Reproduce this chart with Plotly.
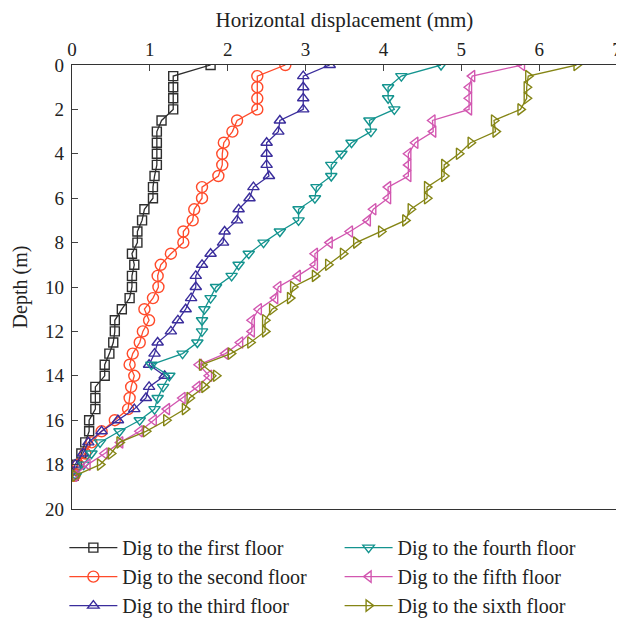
import plotly.graph_objects as go

depth = [i * 0.5 for i in range(38)]

first_floor = [1.78, 1.30, 1.30, 1.30, 1.30, 1.15, 1.09, 1.09, 1.09, 1.09, 1.06, 1.04, 1.04, 0.93, 0.90,
               0.84, 0.84, 0.77, 0.80, 0.77, 0.77, 0.74, 0.64, 0.55, 0.55, 0.53, 0.48, 0.42, 0.42, 0.30,
               0.30, 0.30, 0.22, 0.22, 0.17, 0.12, 0.06, 0.02]
second_floor = [2.74, 2.38, 2.38, 2.38, 2.38, 2.12, 2.06, 1.95, 1.93, 1.93, 1.88, 1.67, 1.67, 1.57, 1.55,
                1.43, 1.43, 1.27, 1.14, 1.10, 1.11, 1.04, 0.93, 0.99, 0.91, 0.87, 0.78, 0.74, 0.80, 0.76,
                0.74, 0.72, 0.55, 0.38, 0.25, 0.17, 0.08, 0.03]
third_floor = [3.31, 2.97, 2.97, 2.97, 2.97, 2.67, 2.65, 2.50, 2.50, 2.50, 2.53, 2.33, 2.28, 2.14, 2.12,
               1.96, 1.94, 1.78, 1.67, 1.59, 1.59, 1.53, 1.46, 1.36, 1.27, 1.10, 1.06, 0.99, 1.19, 0.99,
               0.95, 0.80, 0.59, 0.38, 0.21, 0.14, 0.04, 0.00]
fourth_floor = [4.74, 4.23, 4.06, 4.06, 4.14, 3.82, 3.84, 3.59, 3.46, 3.33, 3.33, 3.14, 3.12, 2.91, 2.91,
                2.67, 2.46, 2.27, 2.14, 2.05, 1.85, 1.78, 1.70, 1.67, 1.67, 1.61, 1.42, 1.02, 1.25, 1.17,
                1.10, 1.06, 0.87, 0.61, 0.36, 0.25, 0.15, 0.05]
fifth_floor = [5.78, 5.14, 5.10, 5.10, 5.10, 4.63, 4.64, 4.41, 4.32, 4.32, 4.32, 4.06, 4.06, 3.87, 3.80,
               3.57, 3.31, 3.12, 3.12, 2.90, 2.65, 2.61, 2.40, 2.31, 2.31, 2.16, 1.97, 1.63, 1.76, 1.61,
               1.42, 1.22, 1.05, 0.87, 0.62, 0.42, 0.20, 0.03]
sixth_floor = [6.48, 5.86, 5.84, 5.84, 5.76, 5.42, 5.44, 5.12, 4.97, 4.78, 4.78, 4.56, 4.56, 4.35, 4.28,
               3.97, 3.65, 3.48, 3.29, 3.12, 2.84, 2.80, 2.57, 2.48, 2.48, 2.29, 2.04, 1.67, 1.85, 1.70,
               1.51, 1.45, 1.21, 0.95, 0.61, 0.50, 0.36, 0.04]

names = ["Dig to the first floor", "Dig to the second floor", "Dig to the third floor",
         "Dig to the fourth floor", "Dig to the fifth floor", "Dig to the sixth floor"]
series = [first_floor, second_floor, third_floor, fourth_floor, fifth_floor, sixth_floor]
colors = ["#2e2e2e", "#ff4a2a", "#3a2d9c", "#14948f", "#d257b0", "#858515"]
symbols = ["square-open", "circle-open", "triangle-up-open", "triangle-down-open",
           "triangle-left-open", "triangle-right-open"]
sizes = [9, 11, 10, 10, 10, 10]

fig = go.Figure()
for i, (nm, vals, c, s, sz) in enumerate(zip(names, series, colors, symbols, sizes)):
    fig.add_trace(go.Scatter(
        x=vals, y=depth, name=nm, mode="lines+markers",
        line=dict(color=c, width=1.3),
        marker=dict(symbol=s, size=sz, color=c, line=dict(color=c, width=1.4)),
        legend="legend" if i < 3 else "legend2",
    ))

font = "Liberation Serif"
fig.update_layout(
    width=624, height=614,
    margin=dict(l=64, r=15, t=57, b=113, autoexpand=False),
    paper_bgcolor="white", plot_bgcolor="white",
    font=dict(family=font, size=19, color="#222"),
    xaxis=dict(side="top", range=[0, 7], dtick=1, ticks="inside", ticklen=6,
               showline=True, linecolor="#333", linewidth=1.3, mirror=True,
               showgrid=False, zeroline=False, automargin=False,
               title=dict(text="Horizontal displacement (mm)", font=dict(size=21), standoff=10)),
    yaxis=dict(range=[20, 0], dtick=2, ticks="inside", ticklen=6, ticklabelstandoff=3,
               showline=True, linecolor="#333", linewidth=1.3, mirror=True,
               showgrid=False, zeroline=False, automargin=False,
               title=dict(text="Depth (m)", font=dict(size=20), standoff=12)),
    legend=dict(x=-0.014, xanchor="left", y=-0.043, yanchor="top", font=dict(size=20),
                bgcolor="rgba(0,0,0,0)", tracegroupgap=0, itemwidth=48),
    legend2=dict(x=0.491, xanchor="left", y=-0.043, yanchor="top", font=dict(size=20),
                 bgcolor="rgba(0,0,0,0)", tracegroupgap=0, itemwidth=48),
)

fig.write_html("out.html")
